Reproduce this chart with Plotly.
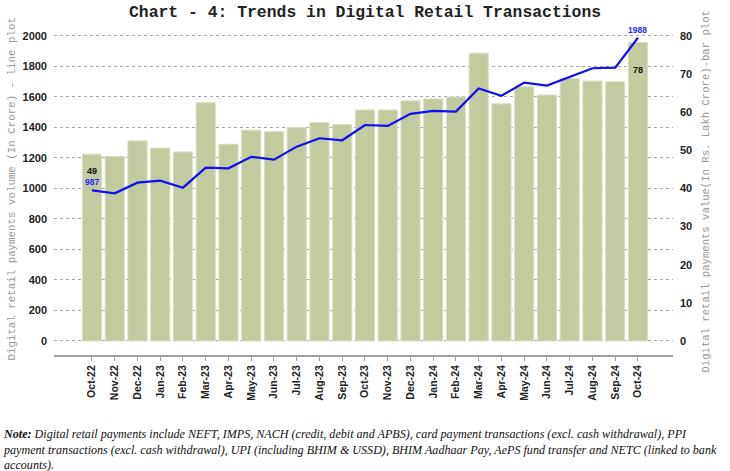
import plotly.graph_objects as go

months = ["Oct-22", "Nov-22", "Dec-22", "Jan-23", "Feb-23", "Mar-23", "Apr-23", "May-23",
          "Jun-23", "Jul-23", "Aug-23", "Sep-23", "Oct-23", "Nov-23", "Dec-23", "Jan-24",
          "Feb-24", "Mar-24", "Apr-24", "May-24", "Jun-24", "Jul-24", "Aug-24", "Sep-24", "Oct-24"]
# Value in Rs. lakh crore (bar plot, right axis)
value_lakh_crore = [49, 48.4, 52.5, 50.6, 49.6, 62.5, 51.6, 55.3, 54.9, 56.0, 57.3, 56.8, 60.6,
                    60.6, 63.0, 63.5, 64.0, 75.5, 62.2, 66.7, 64.5, 68.9, 68.2, 68.0, 78.3]
# Volume in crore (line plot, left axis)
volume_crore = [987, 968, 1038, 1051, 1005, 1136, 1132, 1207, 1189, 1274, 1329, 1316, 1416,
                1410, 1489, 1508, 1504, 1655, 1608, 1694, 1674, 1733, 1788, 1792, 1988]

left_ticks = [0, 200, 400, 600, 800, 1000, 1200, 1400, 1600, 1800, 2000]
right_ticks = [0, 10, 20, 30, 40, 50, 60, 70, 80]

title_text = "Chart - 4: Trends in Digital Retail Transactions"
left_title = "Digital retail payments volume (In Crore) - line plot"
right_title = "Digital retail payments value(In Rs. Lakh Crore)-bar plot"
note_text = ("<b>Note:</b> Digital retail payments include NEFT, IMPS, NACH (credit, debit and APBS), card payment transactions (excl. cash withdrawal), PPI<br>"
             "payment transactions (excl. cash withdrawal), UPI (including BHIM &amp; USSD), BHIM Aadhaar Pay, AePS fund transfer and NETC (linked to bank<br>"
             "accounts).")

fig = go.Figure()
fig.add_trace(go.Bar(
    x=months, y=value_lakh_crore, yaxis="y",
    marker=dict(color="#c2cb9f", line=dict(color="#d8dec2", width=1)),
    width=0.84, name="Value", hoverinfo="x+y",
))
fig.add_trace(go.Scatter(
    x=months, y=volume_crore, yaxis="y2", mode="lines",
    line=dict(color="#1010ee", width=2.2), name="Volume",
))

tickfont = dict(family="Liberation Sans", size=11, color="#222222", weight="bold")

fig.update_layout(
    width=730, height=471,
    margin=dict(l=54, r=57, t=28, b=116),
    paper_bgcolor="white", plot_bgcolor="white",
    showlegend=False,
    xaxis=dict(
        type="category", range=[-1.67, 25.54],
        tickangle=-90, tickfont=dict(family="Liberation Sans", size=10.5, color="#222222", weight="bold"),
        showline=True, linecolor="#a0a0a0", linewidth=2,
        ticks="outside", ticklen=4, tickcolor="#a0a0a0", tickwidth=1,
        showgrid=False, zeroline=False, fixedrange=True,
    ),
    yaxis=dict(
        side="right", range=[-3.67, 82.1], tickvals=right_ticks,
        tickfont=tickfont, showgrid=False, zeroline=False, ticklabelstandoff=6,
    ),
    yaxis2=dict(
        side="left", overlaying="y", range=[-92, 2052], tickvals=left_ticks,
        tickfont=tickfont, showgrid=True, gridcolor="#a8a8a8", griddash="dot", gridwidth=1,
        zeroline=False, ticklabelstandoff=6,
    ),
)

annots = [
    dict(text="<b>" + title_text + "</b>", xref="paper", yref="paper", x=(365 - 54) / 619, y=1,
         yshift=16, xanchor="center", yanchor="middle", showarrow=False,
         font=dict(family="Liberation Mono", size=16.4, color="#222222")),
    dict(text=left_title, xref="paper", yref="paper", x=0, xshift=-42, y=0.506, textangle=-90,
         xanchor="center", yanchor="middle", showarrow=False,
         font=dict(family="Liberation Mono", size=10.8, color="#999999")),
    dict(text=right_title, xref="paper", yref="paper", x=1, xshift=32, y=0.5, textangle=-90,
         xanchor="center", yanchor="middle", showarrow=False,
         font=dict(family="Liberation Mono", size=10.6, color="#999999")),
    dict(text=note_text, xref="paper", yref="paper", x=0, xshift=-53, y=0, yshift=-70,
         xanchor="left", yanchor="top", align="left", showarrow=False,
         font=dict(family="Liberation Serif", size=12.1, color="#111111", style="italic")),
    dict(text="<b>" + str(value_lakh_crore[0]) + "</b>", x=months[0], y=value_lakh_crore[0], xref="x", yref="y",
         yshift=-17, showarrow=False, font=dict(family="Liberation Sans", size=9, color="#111111")),
    dict(text="<b>" + str(round(value_lakh_crore[-1])) + "</b>", x=months[-1], y=value_lakh_crore[-1], xref="x", yref="y",
         yshift=-28, showarrow=False, font=dict(family="Liberation Sans", size=9, color="#111111")),
    dict(text="<b>" + str(volume_crore[0]) + "</b>", x=months[0], y=volume_crore[0], xref="x", yref="y2",
         yshift=8, showarrow=False, font=dict(family="Liberation Sans", size=8.5, color="#2a2aff")),
    dict(text="<b>" + str(volume_crore[-1]) + "</b>", x=months[-1], y=volume_crore[-1], xref="x", yref="y2",
         yshift=8, showarrow=False, font=dict(family="Liberation Sans", size=8.5, color="#2a2aff")),
]
fig.update_layout(annotations=annots)

fig.write_html("out.html", config={"displayModeBar": False},
               post_script="document.body.style.margin='0';document.body.style.overflow='hidden';")
